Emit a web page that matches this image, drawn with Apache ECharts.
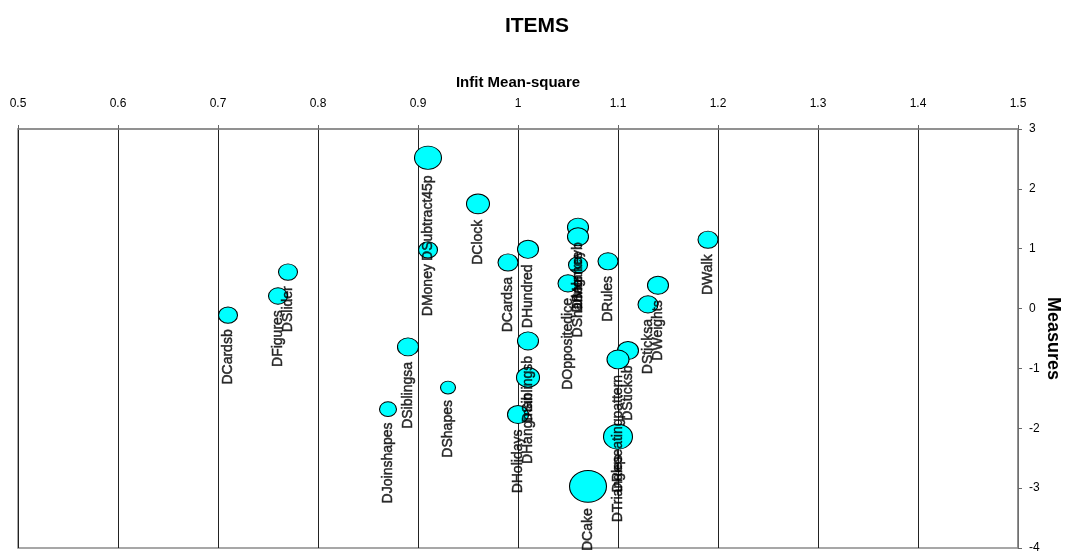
<!DOCTYPE html>
<html>
<head>
<meta charset="utf-8">
<script src="https://cdn.jsdelivr.net/npm/echarts@6/dist/echarts.min.js"></script>
<style>
html,body{margin:0;padding:0;background:#fff;}
#chart{width:1074px;height:554px;}
</style>
</head>
<body>
<div id="chart"></div>
<script>
var itemNames = ['DSubtract45p','DClock','DMoney','DCardsa','DHundred','DMonkeyb','DBalance','DSharing','DOppositedice','DRules','DWalk','DSlider','DFigures','DCardsb','DSiblingsa','DJoinshapes','DShapes','DSiblingsb','DHangman','DHolidays','DSticksb','DRepeatingpattern','DTriangles','DWeights','DSticksa','DCake'];
var infitMnsq = [0.91,0.96,0.91,0.99,1.01,1.06,1.06,1.06,1.05,1.09,1.19,0.77,0.76,0.71,0.89,0.87,0.93,1.01,1.01,1.00,1.11,1.10,1.10,1.14,1.13,1.07];
var measures  = [2.52,1.75,0.98,0.77,0.99,1.36,1.20,0.73,0.42,0.79,1.15,0.61,0.21,-0.11,-0.64,-1.68,-1.32,-0.54,-1.15,-1.77,-0.70,-0.85,-2.14,0.39,0.07,-2.97];
var bubbleSize = [0.27,0.23,0.19,0.20,0.21,0.21,0.21,0.19,0.20,0.20,0.20,0.19,0.19,0.19,0.21,0.17,0.15,0.21,0.23,0.21,0.21,0.22,0.29,0.21,0.20,0.37];
var xTicks = {min:0.5, max:1.5, step:0.1};
var yTicks = {min:-4, max:3, step:1};

var points = itemNames.map(function(n,i){ return [infitMnsq[i], measures[i], bubbleSize[i], n]; });
function sz(v){ return [v[2]*100, v[2]*86]; }
var FONT = 'Liberation Sans, Arial, sans-serif';

var chart = echarts.init(document.getElementById('chart'), null, {renderer:'canvas'});
chart.setOption({
  animation:false,
  backgroundColor:'#fff',
  title:{text:'ITEMS', left:'center', top:11, textStyle:{fontFamily:FONT, fontSize:21, fontWeight:'bold', color:'#000'}},
  grid:{left:18, top:129, width:1000, height:421, show:true, borderColor:'#8a8a8a', borderWidth:1.5, backgroundColor:'transparent'},
  xAxis:{
    type:'value', position:'top', min:xTicks.min, max:xTicks.max, interval:xTicks.step,
    name:'Infit Mean-square', nameLocation:'middle', nameGap:39, nameMoveOverlap:false,
    nameTextStyle:{fontFamily:FONT, fontSize:15, fontWeight:'bold', color:'#000'},
    axisLine:{show:true, onZero:false, lineStyle:{color:'#8a8a8a', width:1.5}},
    axisTick:{show:true, length:4, lineStyle:{color:'#666'}},
    axisLabel:{fontFamily:FONT, fontSize:12, color:'#000', margin:19},
    splitLine:{show:true, lineStyle:{color:'#222', width:1}}
  },
  yAxis:{
    type:'value', position:'right', min:yTicks.min, max:yTicks.max, interval:yTicks.step,
    name:'Measures', nameLocation:'middle', nameGap:26, nameRotate:-90, nameMoveOverlap:false,
    nameTextStyle:{fontFamily:FONT, fontSize:18, fontWeight:'bold', color:'#000'},
    axisLine:{show:true, onZero:false, lineStyle:{color:'#8a8a8a', width:1.5}},
    axisTick:{show:true, length:4, lineStyle:{color:'#666'}},
    axisLabel:{fontFamily:FONT, fontSize:12, color:'#000', margin:11},
    splitLine:{show:false}
  },
  series:[
    {
      type:'scatter', z:2, data:points, symbol:'circle', symbolSize:sz,
      itemStyle:{color:'#00FFFF', borderColor:'#000', borderWidth:1, opacity:1},
      label:{show:false}
    },
    {
      type:'scatter', z:3, data:points, symbol:'circle', symbolSize:sz, silent:true,
      itemStyle:{color:'transparent', borderWidth:0},
      label:{show:true, position:'bottom', distance:6, rotate:90, align:'right', verticalAlign:'middle',
        formatter:function(p){return p.value[3];}, fontFamily:FONT, fontSize:14, color:'#000',
        textBorderColor:'#000', textBorderWidth:0.5}
    }
  ]
});
</script>
</body>
</html>
